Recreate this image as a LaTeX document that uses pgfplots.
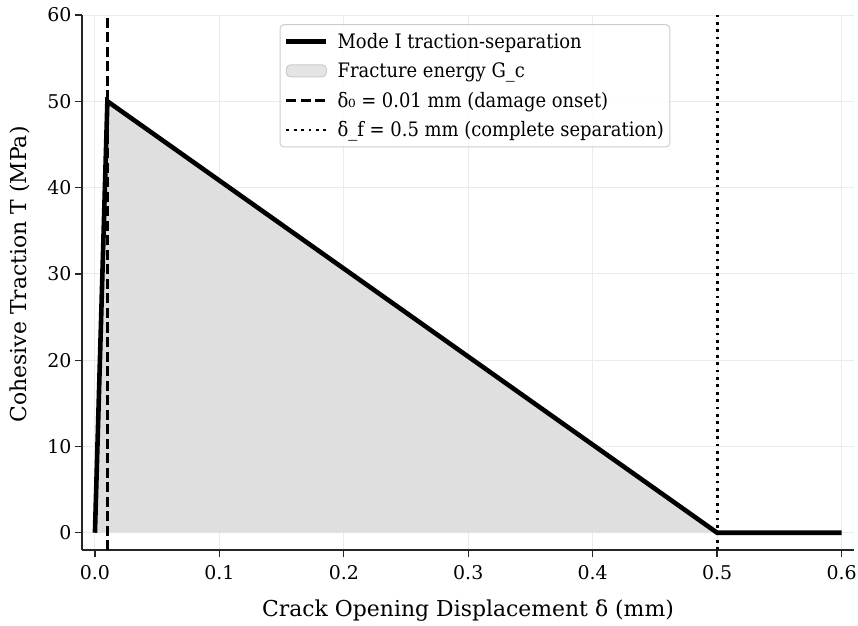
\documentclass[border=0pt]{standalone}
\usepackage{fontspec}
\setmainfont{DejaVu Serif}
\newfontfamily\condfont{DejaVu Serif Condensed}
\usepackage{pgfplots}
\pgfplotsset{compat=1.18}
\definecolor{fillgray}{HTML}{DFDFDF}
\definecolor{spine}{HTML}{262626}
\begin{document}
\begin{tikzpicture}
\begin{axis}[
  name=ax,
  width=772bp, height=535bp, scale only axis,
  xmin=-0.0104, xmax=0.61, ymin=-2, ymax=60,
  axis x line*=bottom, axis y line*=left,
  axis line style={-, color=spine, line width=1.4bp},
  xtick={0,0.1,0.2,0.3,0.4,0.5,0.6},
  xticklabels={0.0,0.1,0.2,0.3,0.4,0.5,0.6},
  ytick={0,10,20,30,40,50,60},
  tick align=outside, major tick length=7bp,
  tick style={color=spine, line width=1.3bp},
  /pgf/number format/assume math mode=true,
  tick label style={font=\fontsize{19}{23}\selectfont},
  xticklabel style={yshift=-5bp},
  label style={font=\fontsize{22}{26}\selectfont},
  xlabel={Crack Opening Displacement δ (mm)},
  ylabel={Cohesive Traction T (MPa)},
  xlabel style={at={(axis description cs:0.5,-0.1252)}, anchor=base},
  ylabel style={at={(axis description cs:-0.0803,0.515)}, anchor=center, rotate=0},
  grid=major,
  major grid style={line width=0.9bp, color=black!8},
  legend style={at={(0.509,0.983)}, anchor=north,
    font=\condfont\fontsize{20}{24}\selectfont,
    draw=black!20, line width=1bp, rounded corners=4bp,
    fill=white, fill opacity=0.85, text opacity=1,
    inner xsep=4bp, inner ysep=6.5bp, row sep=9bp, column sep=7bp},
  legend cell align=left,
]
\addplot[fill=fillgray, draw=none, forget plot] coordinates {(0,0) (0.01,50) (0.5,0)} -- cycle;
\addplot[black, dash pattern=on 10bp off 4.5bp, line width=2.8bp, forget plot] coordinates {(0.01,-2) (0.01,60)};
\addplot[black, dash pattern=on 2.8bp off 4.6bp, line width=2.8bp, forget plot] coordinates {(0.5,-2) (0.5,60)};
\addplot[black, line width=4.6bp, forget plot] coordinates {(0,0) (0.01,50) (0.5,0) (0.6,0)};
\addlegendimage{legend image code/.code={\draw[black, line width=4.6bp] (0bp,0bp) -- (40bp,0bp);}}
\addlegendentry{Mode I traction-separation}
\addlegendimage{legend image code/.code={\draw[fill=fillgray, draw=black!20, line width=1bp] (0bp,-6bp) rectangle (40bp,6bp);}}
\addlegendentry{Fracture energy G\_c}
\addlegendimage{legend image code/.code={\draw[black, line width=2.8bp, dash pattern=on 10bp off 4.5bp] (0bp,0bp) -- (40bp,0bp);}}
\addlegendentry{δ₀ = 0.01 mm (damage onset)}
\addlegendimage{legend image code/.code={\draw[black, line width=2.8bp, dash pattern=on 2.8bp off 4.6bp] (0bp,0bp) -- (40bp,0bp);}}
\addlegendentry{δ\_f = 0.5 mm (complete separation)}
\end{axis}
\pgfresetboundingbox
\path[use as bounding box] ([xshift=-82bp,yshift=-76bp]ax.south west) rectangle ([xshift=4bp,yshift=15bp]ax.north east);
\end{tikzpicture}
\end{document}
